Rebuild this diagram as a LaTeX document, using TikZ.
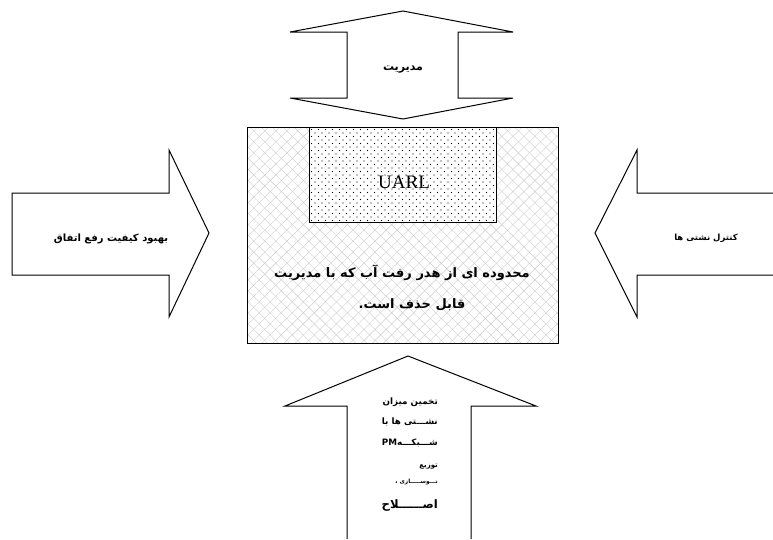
\documentclass[tikz,border=0pt]{standalone}
\usepackage{fontspec}
\setmainfont{Liberation Serif}
\newfontfamily\farsi[Script=Arabic]{DejaVu Sans}
\TeXXeTstate=1
\usetikzlibrary{patterns.meta}

\tikzset{
  blockarrow/.style={draw, line width=1pt, fill=white, line join=miter},
  boxline/.style={draw, line width=1pt},
  fatext/.style={inner sep=0pt, font=\farsi\bfseries\fontsize{#1}{#1}\selectfont},
  fatext/.default=8
}

\begin{document}
\begin{tikzpicture}[x=1pt, y=-1pt]
  \useasboundingbox (0,0) rectangle (773,539);

  % Pfeil oben (Doppelpfeil)
  \draw[blockarrow] (290,32) -- (403,11) -- (513,32) -- (458,32) -- (458,98)
    -- (513,98) -- (403,119) -- (290,98) -- (347,98) -- (347,32) -- cycle;
  \node[fatext=11] (mgmt) at (403,70) {\beginR مدیریت\endR};

  % Pfeil links
  \draw[blockarrow] (12,193) -- (169,193) -- (169,150) -- (209,233)
    -- (169,317) -- (169,275) -- (12,275) -- cycle;
  \node[fatext=10] (quality) at (111,239) {\beginR بهبود کیفیت رفع اتفاق\endR};

  % Pfeil rechts (offen am Bildrand)
  \draw[blockarrow] (773,193) -- (637,193) -- (637,150) -- (595,233)
    -- (637,317) -- (637,275) -- (773,275);
  \node[fatext=8.5] (leak) at (706,238) {\beginR کنترل نشتی ها\endR};

  % Pfeil unten (offen am Bildrand)
  \draw[blockarrow] (347,539) -- (347,406) -- (285,406) -- (408,356)
    -- (536,406) -- (471,406) -- (471,539);
  \node[fatext=8.8, anchor=east] (est1) at (438,402) {\beginR تخمین میزان\endR};
  \node[fatext=8.8, anchor=east] (est2) at (438,422) {\beginR نشـــتی ها با\endR};
  \node[fatext=8.8, anchor=east] (est3) at (438,443) {\beginR شـــبکـــه\beginL PM\endL\endR};
  \node[fatext=7, anchor=east] (est4) at (438,467) {\beginR توزیع\endR};
  \node[fatext=5.8, anchor=east] (est5) at (438,482) {\beginR نـــوســـــازی ،\endR};
  \node[fatext=11.6, anchor=east] (est6) at (438,505) {\beginR اصــــــلاح\endR};

  % Hauptkasten mit Kreuzschraffur
  \fill[pattern={Lines[angle=45, distance=7.8pt, line width=0.4pt]}, pattern color=gray!40]
    (247,127) rectangle (558,343);
  \fill[pattern={Lines[angle=-45, distance=7.8pt, line width=0.4pt]}, pattern color=gray!40]
    (247,127) rectangle (558,343);
  \draw[boxline] (247,127) rectangle (558,343);

  % UARL-Kasten mit Punkten
  \fill[white] (309,127) rectangle (496,222);
  \fill[pattern={Dots[distance=7pt, radius=0.7pt]}] (309,127) rectangle (496,222);
  \fill[pattern={Dots[distance=7pt, radius=0.7pt, xshift=3.5pt, yshift=3.5pt]}] (309,127) rectangle (496,222);
  \draw[boxline] (309,127) rectangle (496,222);
  \node[inner sep=0pt, font=\fontsize{19}{19}\selectfont] (uarl) at (404,182) {UARL};

  \node[fatext=13] (area1) at (402,273) {\beginR محدوده ای از هدر رفت آب که با مدیریت\endR};
  \node[fatext=13] (area2) at (412,305) {\beginR قابل حذف است.\endR};
\end{tikzpicture}
\end{document}
